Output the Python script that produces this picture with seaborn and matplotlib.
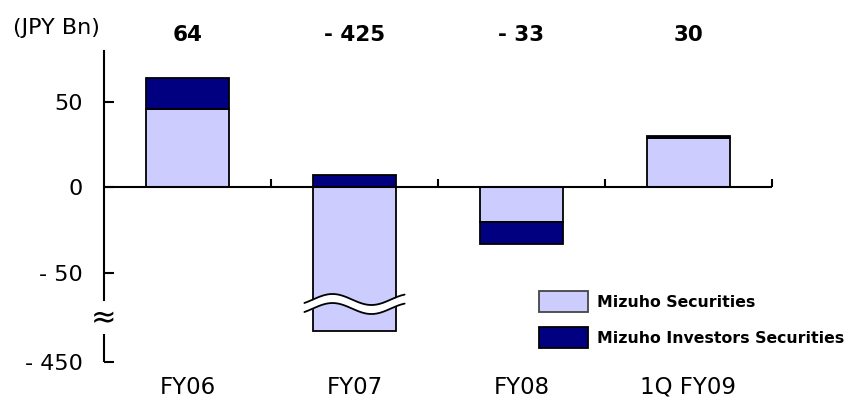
import numpy as np
import pandas as pd
import matplotlib
matplotlib.use("Agg")
import matplotlib.pyplot as plt
import seaborn as sns
from matplotlib.patches import Patch
from matplotlib.transforms import blended_transform_factory
from matplotlib.ticker import FuncFormatter

# ---- data (JPY Bn) ----
categories = ["FY06", "FY07", "FY08", "1Q FY09"]
mizuho_securities = [46, -432, -20, 29]
mizuho_investors = [18, 7, -13, 1]
series_names = ["Mizuho Securities", "Mizuho Investors Securities"]
y_ticks = [-450, -50, 0, 50]
unit_label = "(JPY Bn)"

LIGHT = "#CCCCFF"
DARK = "#000080"

sns.set_theme(style="white")
plt.rcParams["font.family"] = ["DejaVu Sans"]
plt.rcParams["text.color"] = "black"

ms = np.array(mizuho_securities, float)
mis = np.array(mizuho_investors, float)
totals = ms + mis
# the second series stacks on the first when both share a sign
stack_base = np.where(np.sign(ms) == np.sign(mis), ms, 0.0)

# broken value axis: the band between BREAK_LO and BREAK_HI is squeezed to GAP
BREAK_HI, BREAK_LO, GAP = -66.0, -415.0, 1.0


def fwd(v):
    v = np.asarray(v, float)
    mid = BREAK_HI + (v - BREAK_HI) * GAP / (BREAK_HI - BREAK_LO)
    low = v - BREAK_LO + BREAK_HI - GAP
    return np.where(v >= BREAK_HI, v, np.where(v >= BREAK_LO, mid, low))


def inv(t):
    t = np.asarray(t, float)
    mid = BREAK_HI + (t - BREAK_HI) * (BREAK_HI - BREAK_LO) / GAP
    low = t + BREAK_LO - BREAK_HI + GAP
    return np.where(t >= BREAK_HI, t, np.where(t >= BREAK_HI - GAP, mid, low))


def signed(v):
    v = int(round(v))
    return f"- {abs(v)}" if v < 0 else f"{v}"


df = pd.DataFrame({"period": categories, "ms": ms, "mis": mis, "base": stack_base})

fig = plt.figure(figsize=(8.45, 4.01), dpi=100)
ax = fig.add_axes([104 / 845, 1 - 361.7 / 401, (772 - 104) / 845, (361.7 - 50.7) / 401])

bar_kw = dict(edgecolor="black", linewidth=1.3, width=0.5, saturation=1,
              errorbar=None, ax=ax, zorder=2)
sns.barplot(data=df, x="period", y="ms", color=LIGHT, **bar_kw)
sns.barplot(data=df, x="period", y="mis", color=DARK,
            bottom=df["base"].to_numpy(), **bar_kw)

ax.set_yscale("function", functions=(fwd, inv))
ax.set_ylim(-450, 80)
ax.set_xlim(-0.5, len(categories) - 0.5)
ax.set_xlabel("")
ax.set_ylabel("")

# axes lines
for side in ("top", "right", "bottom"):
    ax.spines[side].set_visible(False)
ax.spines["left"].set_color("black")
ax.spines["left"].set_linewidth(1.5)
ax.spines["left"].set_bounds(BREAK_HI, 80)
ax.plot([-0.5, -0.5], [-450, -434], color="black", lw=1.5, clip_on=False,
        solid_capstyle="butt", zorder=3)
ax.axhline(0, color="black", lw=1.5, zorder=3)
bounds = np.arange(len(categories)) + 0.5
ax.vlines(bounds, 0, 5, color="black", lw=1.5, zorder=3, clip_on=False)

ax.set_yticks(y_ticks)
ax.yaxis.set_major_formatter(FuncFormatter(lambda v, _: signed(v)))
ax.tick_params(axis="y", direction="in", length=7, width=1.5, pad=15,
               labelsize=16, colors="black", left=True)
ax.tick_params(axis="x", length=0, pad=10, labelsize=16.5, colors="black")

blend = blended_transform_factory(ax.transData, ax.transAxes)

# axis break mark
ax.text(-0.5, 0.14, "\u2248", transform=blend, ha="center", va="center",
        fontsize=22, color="black")

# wavy cut across the bar that runs through the break
for i, v in enumerate(ms):
    if v < BREAK_LO:
        xs = np.linspace(i - 0.3, i + 0.3, 200)
        upper = 0.2 + 0.0177 * np.cos(2 * np.pi * (xs - (i - 0.132)) / 0.467)
        lower = upper - 0.029
        ax.fill_between(xs, lower, upper, transform=blend, color="white",
                        zorder=4, clip_on=False, lw=0)
        ax.plot(xs, upper, transform=blend, color="black", lw=1.3, zorder=5, clip_on=False)
        ax.plot(xs, lower, transform=blend, color="black", lw=1.3, zorder=5, clip_on=False)

# totals above each period
for i, t in enumerate(totals):
    ax.text(i, 1.05, signed(t), transform=blend, ha="center", va="center",
            fontsize=15.5, fontweight="bold", color="black")

fig.text(13 / 845, 1 - 28 / 401, unit_label, ha="left", va="center",
         fontsize=16, color="black")

handles = [Patch(facecolor=LIGHT, edgecolor="#444444", linewidth=1.3),
           Patch(facecolor=DARK, edgecolor="black", linewidth=1.3)]
fig.legend(handles=handles, labels=series_names, loc="upper left",
           bbox_to_anchor=(539 / 845, 1 - 291 / 401), frameon=False,
           borderpad=0, borderaxespad=0, handlelength=3.1, handleheight=1.7,
           handletextpad=0.57, labelspacing=0.95, labelcolor="black",
           prop={"weight": "bold", "size": 11.3})

fig.savefig("out.png", dpi=100)
